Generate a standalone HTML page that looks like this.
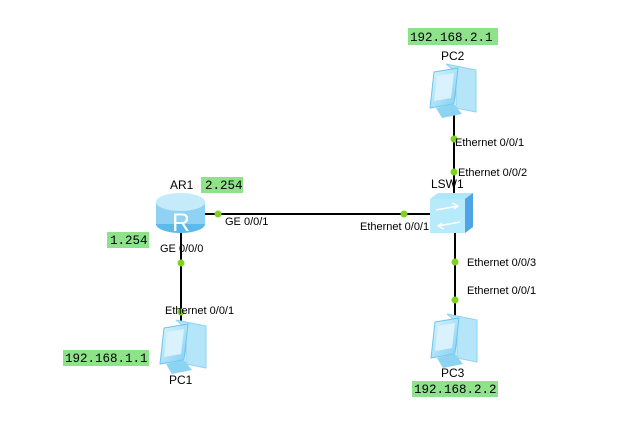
<!DOCTYPE html>
<html><head><meta charset="utf-8"><style>
body{margin:0;background:#fff;width:618px;height:429px;overflow:hidden}
svg{display:block}
.t{font-family:"Liberation Sans",sans-serif;font-size:11px;fill:#000}
.n{font-family:"Liberation Sans",sans-serif;font-size:12px;fill:#000}
.ip{font-family:"Liberation Mono",monospace;font-size:12.5px;fill:#000}
</style></head><body>
<svg width="618" height="429" viewBox="0 0 618 429" xmlns="http://www.w3.org/2000/svg">
<defs>
<linearGradient id="rg" x1="0" y1="0" x2="0" y2="1"><stop offset="0" stop-color="#c8ecfb"/><stop offset="1" stop-color="#5cb9ea"/></linearGradient>
<linearGradient id="pc" x1="0" y1="0" x2="1" y2="1"><stop offset="0" stop-color="#dff4fd"/><stop offset="1" stop-color="#7fcff3"/></linearGradient>
<g id="pcicon">
<polygon points="16,2 46,8 46,50 26,46 26,10" fill="#b5e5f9" stroke="#8dd3f2"/>
<polygon points="4,10 28,6 24,42 0,46" fill="url(#pc)" stroke="#6cc4ee"/>
<polygon points="7,14 24,11 21,36 4,39" fill="#d9f2fd"/>
<polygon points="6,46 24,42 32,52 12,56" fill="#8dd3f2"/>
</g>
</defs>
<g stroke="#000" stroke-width="2">
<line x1="205" y1="214" x2="432" y2="214"/>
<line x1="181" y1="230" x2="181" y2="322"/>
<line x1="454" y1="115" x2="454" y2="195"/>
<line x1="455" y1="232" x2="455" y2="318"/>
</g>
<g fill="#7ed321">
<circle cx="218" cy="214" r="3.5"/><circle cx="404" cy="214" r="3.5"/>
<circle cx="181" cy="263" r="3.5"/><circle cx="181" cy="312" r="3.5"/>
<circle cx="454" cy="139" r="3.5"/><circle cx="454" cy="172" r="3.5"/>
<circle cx="455" cy="262" r="3.5"/><circle cx="455" cy="300" r="3.5"/>
</g>
<!-- router -->
<ellipse cx="180.5" cy="224" rx="24.5" ry="9" fill="#5cb9ea"/>
<rect x="156" y="202" width="49" height="22" fill="#8fd2f3"/>
<ellipse cx="180.5" cy="202" rx="24.5" ry="9" fill="#c5ebfb"/>
<text x="181" y="231" font-family="Liberation Sans,sans-serif" font-size="25" fill="#fff" text-anchor="middle">R</text>
<!-- switch -->
<polygon points="430,199 438,193 473,193 473,227 465,233 430,233" fill="#aee6fa"/>
<polygon points="465,199 473,193 473,227 465,233" fill="#4fa3e6"/>
<rect x="430" y="199" width="35" height="34" fill="#b7ebfb"/>
<g stroke="#fff" stroke-width="1.5" fill="none"><path d="M436 210 L458 206 M452 203 L458 206 L454 209"/><path d="M460 222 L438 226 M444 229 L438 226 L442 223"/></g>
<use href="#pcicon" x="430" y="62"/>
<use href="#pcicon" x="160" y="318"/>
<use href="#pcicon" x="431" y="312"/>
<g fill="#8ee38a">
<rect x="201" y="177" width="42" height="16"/>
<rect x="107" y="232" width="42" height="16"/>
<rect x="63" y="350" width="86" height="16"/>
<rect x="408" y="28" width="90" height="17"/>
<rect x="412" y="381" width="86" height="16"/>
</g>
<text class="ip" x="205" y="189">2.254</text>
<text class="ip" x="110" y="244">1.254</text>
<text class="ip" x="65" y="362">192.168.1.1</text>
<text class="ip" x="410" y="41">192.168.2.1</text>
<text class="ip" x="414" y="393">192.168.2.2</text>
<text class="n" x="170" y="189">AR1</text>
<text class="n" x="441" y="60">PC2</text>
<text class="n" x="431" y="188">LSW1</text>
<text class="n" x="169" y="384">PC1</text>
<text class="n" x="441" y="377">PC3</text>
<text class="t" x="225" y="225">GE 0/0/1</text>
<text class="t" x="360" y="230">Ethernet 0/0/1</text>
<text class="t" x="160" y="252">GE 0/0/0</text>
<text class="t" x="165" y="314">Ethernet 0/0/1</text>
<text class="t" x="455" y="146">Ethernet 0/0/1</text>
<text class="t" x="458" y="176">Ethernet 0/0/2</text>
<text class="t" x="467" y="266">Ethernet 0/0/3</text>
<text class="t" x="467" y="294">Ethernet 0/0/1</text>
</svg>
</body></html>
